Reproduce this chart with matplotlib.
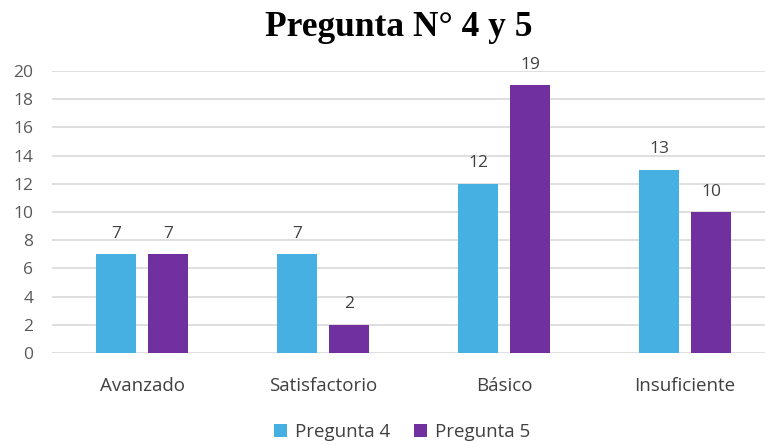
import matplotlib
matplotlib.use("Agg")
import matplotlib.pyplot as plt
import numpy as np

categories = ["Avanzado", "Satisfactorio", "Básico", "Insuficiente"]
pregunta4 = [7, 7, 12, 13]
pregunta5 = [7, 2, 19, 10]
series_names = ["Pregunta 4", "Pregunta 5"]
colors = ["#45B0E1", "#7030A0"]

plt.rcParams['font.family'] = ['Open Sans', 'DejaVu Sans']

fig = plt.figure(figsize=(7.65, 4.45), dpi=100)
# plot area in pixels: x 51.5 -> 775.5, y 71 -> 353
ax = fig.add_axes([51.5 / 765, 1 - 353 / 445, 724 / 765, 282 / 445])

x = np.arange(len(categories))
w = 0.224
off = 0.144
b1 = ax.bar(x - off, pregunta4, w, color=colors[0], label=series_names[0], zorder=3)
b2 = ax.bar(x + off, pregunta5, w, color=colors[1], label=series_names[1], zorder=3)
for bars in (b1, b2):
    ax.bar_label(bars, padding=9, fontsize=12.5, color="#404040")

ax.set_xlim(-0.5, len(categories) - 0.5)
ax.set_ylim(0, 20)
ax.set_yticks(range(0, 21, 2))
ax.grid(axis='y', color="#D9D9D9", linewidth=1.2, zorder=0)
for s in ax.spines.values():
    s.set_visible(False)
ax.tick_params(axis='both', length=0)
ax.tick_params(axis='y', labelsize=12.5, labelcolor="#595959", pad=13)
ax.tick_params(axis='x', labelsize=13.5, labelcolor="#404040", pad=17)
ax.set_xticks(x)
ax.set_xticklabels(categories)

fig.text(398.5 / 765, 1 - 36 / 445, "Pregunta N° 4 y 5", ha='center', va='baseline',
         fontsize=25.5, fontweight='bold', family='Liberation Serif', color='black')

fig.legend(loc='center', bbox_to_anchor=(402 / 765, 1 - 432 / 445), ncol=2, frameon=False,
           fontsize=13.5, handlelength=0.7, handleheight=0.7, columnspacing=1.3,
           handletextpad=0.4, labelcolor="#404040")

fig.savefig("out.png", dpi=100)
